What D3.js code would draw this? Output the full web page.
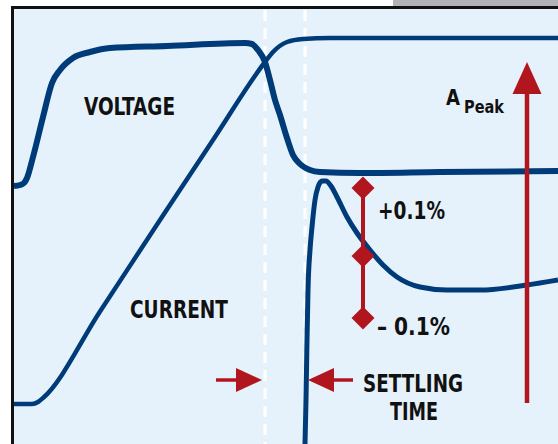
<!DOCTYPE html>
<html>
<head>
<meta charset="utf-8">
<script src="https://cdn.jsdelivr.net/npm/d3@7"></script>
<style>
	html, body { margin: 0; padding: 0; background: #ffffff; }
	svg { display: block; }
	text { font-family: "Liberation Sans Narrow", "DejaVu Sans Condensed", "Arial Narrow", sans-serif; font-weight: bold; fill: #111111; }
</style>
</head>
<body>
<script>
// time axis (arbitrary units) and amplitude (arbitrary units)
const voltage_t = [0, 1.5, 2.5, 3.25, 4.75, 7.25, 9.5, 11.5, 14.75, 19, 24, 38.25, 57.75, 59.5, 61, 62.75, 64, 65.25, 66.5, 68.25, 69.75, 71.5, 74, 76.5, 86.5, 106.5, 136];
const voltage_v = [51.6, 51.8, 52.2, 53.2, 57.4, 65.4, 72.2, 74.8, 77.2, 78.4, 79.2, 79.6, 80.2, 80, 78.8, 76.4, 72.8, 68.8, 65.8, 61.2, 57.8, 56, 54.8, 54.4, 54.2, 54.4, 54.6];

const current_t = [0, 4.5, 6, 7.25, 21.5, 36.5, 49.75, 62.75, 64.75, 68.25, 72.25, 79, 136];
const current_v = [8, 8, 8.4, 9.2, 26.5, 44.8, 60.8, 76.4, 78.4, 80.4, 81, 81.2, 81.2];

const settle_t = [72.75, 73, 73.25, 73.5, 74, 74.5, 75.25, 76, 77, 78, 79.25, 80.75, 83.25, 85.75, 89, 92.25, 95.75, 101.5, 108.25, 116.5, 128.25, 136];
const settle_v = [0, 8.8, 20.8, 30.8, 38.8, 43.4, 48.8, 51.4, 52.6, 52.6, 51.6, 49.4, 45.4, 42.2, 38.8, 35.8, 33.4, 31.4, 30.8, 30.8, 31.8, 32.8];

const settling_start = 62.75;
const settling_end = 72.75;
const band_t = 87.25;
const band_levels = [51.2, 37.6, 25.2];
const band_labels = ['+0.1%', '\u2013 0.1%'];
const peak_t = 128.25;
const peak_range = [8.2, 76.4];
const arrow_level = 12.8;
const arrow_left = [50.5, 62];
const arrow_right = [84.75, 73.5];

const navy = '#003b79';
const red = '#b1161e';

function init()
{
	const width = 558;
	const height = 444;

	var svg = d3.select('body').append('svg')
		.attr('width', width)
		.attr('height', height);

	var x = d3.scaleLinear().domain([0, 136]).range([14, 558]);
	var y = d3.scaleLinear().domain([0, 87]).range([444, 9]);

	// header strip
	svg.append('rect').attr('x', 393).attr('y', 0).attr('width', width - 393).attr('height', 7).attr('fill', '#b1b3b6');
	// plot background and frame
	svg.append('rect').attr('x', 12).attr('y', 7).attr('width', width - 12).attr('height', height - 7).attr('fill', '#e6f2fb');
	svg.append('path')
		.attr('d', 'M12.5,' + height + 'V7.5H' + width)
		.attr('fill', 'none').attr('stroke', '#111').attr('stroke-width', 3);

	// dashed settling-time markers
	svg.selectAll('line.dash')
		.data([settling_start, settling_end])
		.enter()
		.append('line')
			.attr('class', 'dash')
			.attr('x1', function(d) { return x(d); })
			.attr('x2', function(d) { return x(d); })
			.attr('y1', 10)
			.attr('y2', height)
			.attr('stroke', '#ffffff')
			.attr('stroke-width', 3)
			.attr('stroke-dasharray', '11,7');

	var line = d3.line()
		.x(function(d) { return x(d[0]); })
		.y(function(d) { return y(d[1]); })
		.curve(d3.curveMonotoneX);

	function draw(ts, vs, w)
	{
		svg.append('path')
			.datum(d3.zip(ts, vs))
			.attr('fill', 'none')
			.attr('stroke', navy)
			.attr('stroke-width', w)
			.attr('stroke-linejoin', 'round')
			.attr('d', line);
	}
	draw(current_t, current_v, 4.5);
	draw(voltage_t, voltage_v, 6);
	draw(settle_t, settle_v, 5);

	// tolerance band
	svg.append('line')
		.attr('x1', x(band_t)).attr('x2', x(band_t))
		.attr('y1', y(band_levels[0])).attr('y2', y(band_levels[2]))
		.attr('stroke', red).attr('stroke-width', 4);
	svg.selectAll('path.diamond')
		.data(band_levels)
		.enter()
		.append('path')
			.attr('class', 'diamond')
			.attr('fill', red)
			.attr('d', function(d)
			{
				const cx = x(band_t), cy = y(d), r = 11.5;
				return 'M' + cx + ',' + (cy - r) + 'L' + (cx + r) + ',' + cy + 'L' + cx + ',' + (cy + r) + 'L' + (cx - r) + ',' + cy + 'Z';
			});

	// peak amplitude arrow
	svg.append('line')
		.attr('x1', x(peak_t)).attr('x2', x(peak_t))
		.attr('y1', y(peak_range[0])).attr('y2', y(peak_range[1]) + 28)
		.attr('stroke', red).attr('stroke-width', 4.5);
	svg.append('path')
		.attr('fill', red)
		.attr('d', 'M' + x(peak_t) + ',' + y(peak_range[1]) + 'l14.5,32h-29z');

	// settling time arrows
	function harrow(from, to)
	{
		const x0 = x(from), x1 = x(to), cy = y(arrow_level);
		const dir = x1 > x0 ? 1 : -1;
		svg.append('line')
			.attr('x1', x0).attr('x2', x1 - dir * 20)
			.attr('y1', cy).attr('y2', cy)
			.attr('stroke', red).attr('stroke-width', 3.5);
		svg.append('path')
			.attr('fill', red)
			.attr('d', 'M' + x1 + ',' + cy + 'l' + (-dir * 26) + ',-12v24z');
	}
	harrow(arrow_left[0], arrow_left[1]);
	harrow(arrow_right[0], arrow_right[1]);

	// labels
	function label(t, px, py, size, len)
	{
		svg.append('text')
			.attr('x', px).attr('y', py)
			.attr('font-size', size)
			.attr('textLength', len)
			.attr('lengthAdjust', 'spacingAndGlyphs')
			.text(t);
	}
	label('VOLTAGE', 84, 115, 25.5, 91);
	label('CURRENT', 130, 318, 25.5, 98);
	label('A', 446, 105, 21, 14);
	label('Peak', 464, 113, 18, 40);
	label(band_labels[0], 378, 219, 25.5, 67);
	label(band_labels[1], 377, 335, 25.5, 73);
	label('SETTLING', 363, 391.5, 24, 100);
	label('TIME', 390, 420, 24, 48);
}
init();
</script>
</body>
</html>
